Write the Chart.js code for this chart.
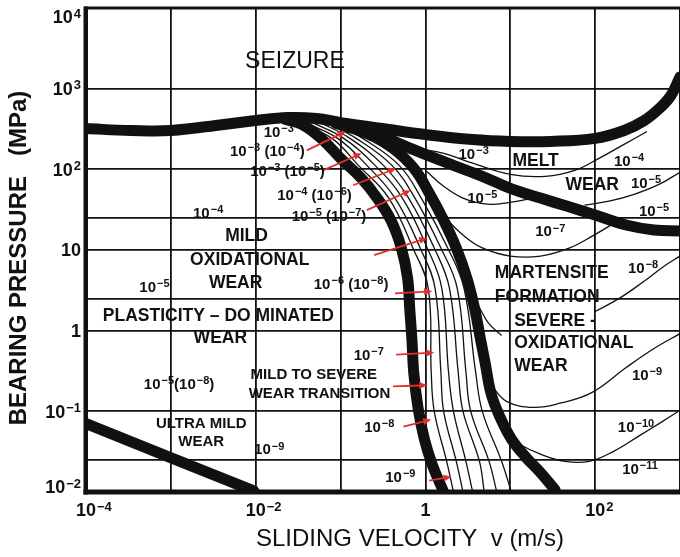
<!DOCTYPE html>
<html>
<head>
<meta charset="utf-8">
<title>Wear map</title>
<script src="https://cdn.jsdelivr.net/npm/chart.js@4.4.1/dist/chart.umd.min.js"></script>
<style>
  html, body { margin: 0; padding: 0; background: #fff; }
  #wrap { width: 680px; height: 557px; }
</style>
</head>
<body>
<div id="wrap"><canvas id="wear-map" width="680" height="557"></canvas></div>
<script>
// grid and tick values
const xGrid = [1e-4, 1e-3, 1e-2, 0.1, 1, 10, 100, 1000];
const yGrid = [0.01, 0.025, 0.1, 1, 2.5, 10, 25, 100, 1000, 10000];
const xTickValues = [1e-4, 1e-2, 1, 100];
const xTickLabels = ['10{-4}', '10{-2}', '1', '10{2}'];
const yTickValues = [1e4, 1e3, 100, 10, 1, 0.1, 0.01];
const yTickLabels = ['10{4}', '10{3}', '10{2}', '10', '1', '10{-1}', '10{-2}'];

// thick regime boundaries (v in m/s, p in MPa)
const seizureV = [1e-4, 3.4e-4, 1e-3, 4.2e-3, 0.01, 0.024, 0.052, 0.1, 0.31, 1, 3.6, 10, 30, 100, 220, 380, 570, 780, 1000];
const seizureP = [320, 303, 303, 360, 403, 438, 427, 380, 321, 270, 234, 222, 222, 242, 303, 403, 566, 820, 1400];
const meltV = [0.115, 0.234, 0.55, 1, 2.14, 4.68, 10, 22.7, 46, 102, 232, 494, 1000];
const meltP = [349, 294, 198, 153, 112, 82, 58, 44, 35, 27, 20.4, 17.7, 17.2];
const mildV = [0.0225, 0.035, 0.059, 0.1, 0.177, 0.27, 0.392, 0.52, 0.617, 0.653, 0.692, 0.73, 0.82, 0.97, 1.2, 1.64];
const mildP = [414, 360, 242, 137, 77, 44, 23.4, 10.6, 4.47, 1.88, 0.8, 0.294, 0.109, 0.0455, 0.022, 0.01];
const severeV = [0.088, 0.204, 0.414, 0.73, 1.11, 1.64, 2.31, 3.08, 3.8, 4.44, 5.07, 5.93, 7.5, 10.3, 15.3, 22.7, 33.8];
const severeP = [370, 278, 182, 103, 50.6, 23.4, 10.6, 4.47, 1.88, 0.8, 0.392, 0.167, 0.0865, 0.0455, 0.0269, 0.0174, 0.0106];
const ultraV = [1e-4, 9.5e-3];
const ultraP = [0.0705, 0.0103];

// thin wear-rate contours in the transition band
const bandP = [390, 242, 112, 44, 10.6, 3.35, 0.31, 0.1, 0.024, 0.01];
const band1V = [0.029, 0.079, 0.162, 0.37, 0.711, 1.08, 1.17, 1.27, 1.78, 2.14];
const band2V = [0.036, 0.0925, 0.204, 0.438, 0.867, 1.3, 1.52, 1.64, 2.31, 2.77];
const band3V = [0.044, 0.109, 0.255, 0.535, 1.05, 1.56, 1.87, 2.14, 3.0, 3.6];
const band4V = [0.055, 0.129, 0.32, 0.634, 1.27, 1.92, 2.43, 2.77, 4.33, 4.93];
const band5V = [0.066, 0.153, 0.403, 0.753, 1.52, 2.37, 3.0, 3.42, 5.62, 6.93];
const band6V = [0.079, 0.182, 0.491, 0.893, 1.83, 2.85, 3.9, 4.68, 7.9, 10.3];

// thin contours on the high speed side
const melt3V = [0.73, 1.64, 3.6, 10, 25.9, 57.4, 111, 219, 409];
const melt3P = [182, 158, 119, 86.7, 82, 97, 137, 204, 294];
const melt5V = [75, 146, 288, 566, 1000];
const melt5P = [36, 40.3, 49, 65, 92];
const rate5V = [1.03, 1.64, 2.77, 5.34, 10.3, 18.9];
const rate5P = [94.5, 61.7, 44, 37, 39.2, 44];
const rate7V = [1.64, 2.77, 4.68, 10, 22.7, 50.2, 97, 167];
const rate7P = [26.3, 15.3, 10.6, 8.4, 8.4, 10.6, 15.3, 21.5];
const rate8aV = [4.3, 5.6, 7.9];
const rate8aP = [1.95, 1.22, 0.87];
const rate8bV = [100, 192, 377, 648, 1000];
const rate8bP = [1.73, 2.51, 4.1, 6.3, 8.4];
const rate9V = [6.1, 9.0, 18.9, 38.6, 92.4, 232, 494, 1000];
const rate9P = [0.204, 0.133, 0.112, 0.126, 0.172, 0.349, 0.6, 0.918];
const rate10V = [9.8, 13.4, 22.7, 44, 85.3, 167, 330, 566, 1000];
const rate10P = [0.0497, 0.0382, 0.0294, 0.024, 0.024, 0.0321, 0.0497, 0.0705, 0.103];

// red pointer arrows (from label to contour)
const arrowFromV = [0.04, 0.0624, 0.141, 0.204, 0.248, 0.438, 0.451, 0.414, 0.55, 1.11];
const arrowFromP = [172, 97, 63.5, 31.2, 8.66, 2.9, 0.506, 0.204, 0.0646, 0.0138];
const arrowToV = [0.115, 0.177, 0.451, 0.671, 1.05, 1.2, 1.27, 1.05, 1.17, 2.03];
const arrowToP = [294, 158, 103, 55, 14.1, 3.07, 0.535, 0.21, 0.079, 0.0155];

// annotations: [text, v, p]
const seizureNote = ['SEIZURE', 0.029, 2190];
const regionNotes = [
  ['MELT', 19.9, 126], ['WEAR', 92.4, 63.5],
  ['MILD', 7.8e-3, 14.9], ['OXIDATIONAL', 8.5e-3, 7.5], ['WEAR', 5.8e-3, 3.87],
  ['PLASTICITY \u2013 DO MINATED', 3.63e-3, 1.5], ['WEAR', 3.83e-3, 0.8]
];
const severeNotes = [
  ['MARTENSITE', 6.58, 5.16], ['FORMATION', 6.58, 2.59],
  ['SEVERE -', 11.1, 1.33], ['OXIDATIONAL', 11.1, 0.69], ['WEAR', 11.1, 0.36]
];
const transitionNotes = [['MILD TO SEVERE', 8.7e-3, 0.286], ['WEAR TRANSITION', 8.26e-3, 0.167]];
const ultraNotes = [['ULTRA MILD', 2.28e-3, 0.0705], ['WEAR', 2.28e-3, 0.0417]];
const rateNotes = [
  ['10{-3}', 0.0187, 294], ['10{-3} (10{-4})', 0.0137, 172], ['10{-3} (10{-5})', 0.0237, 97],
  ['10{-4} (10{-6})', 0.0493, 49], ['10{-5} (10{-7})', 0.073, 27], ['10{-6} (10{-8})', 0.133, 3.87],
  ['10{-7}', 0.215, 0.506], ['10{-8}', 0.286, 0.0646], ['10{-9}', 0.506, 0.0155],
  ['10{-4}', 2.75e-3, 29.4], ['10{-5}', 6.4e-4, 3.55], ['10{-5}(10{-8})', 1.25e-3, 0.222], ['10{-9}', 0.0144, 0.034],
  ['10{-3}', 3.7, 158], ['10{-4}', 251, 129], ['10{-5}', 398, 69], ['10{-5}', 4.68, 45], ['10{-5}', 494, 31.2],
  ['10{-7}', 29.6, 17.2], ['10{-8}', 367, 6.13], ['10{-9}', 409, 0.286], ['10{-10}', 303, 0.0646], ['10{-11}', 338, 0.0195]
];

const INK = '#111';
const FONT = "'Liberation Sans', Arial, sans-serif";

const points = (vs, ps) => vs.map((v, i) => ({ x: v, y: ps[i] }));
const thick = (label, vs, ps) => ({
  label, data: points(vs, ps), showLine: true, borderColor: INK, borderWidth: 11,
  borderCapStyle: 'round', borderJoinStyle: 'round', tension: 0.4, clip: 0, order: 0
});
const thin = (label, vs, ps) => ({
  label, data: points(vs, ps), showLine: true, borderColor: INK, borderWidth: 1.3,
  tension: 0.4, clip: 0, order: 1
});

// text with {superscript} parts
function drawSup(ctx, spec, x, y, align, size, supSize, weight) {
  const parts = [];
  spec.replace(/([^{]+)|\{([^}]*)\}/g, (m, base, sup) => {
    if (base !== undefined) parts.push({ t: base, sup: false });
    else parts.push({ t: sup.replace('-', '\u2212'), sup: true });
  });
  const bf = `${weight} ${size}px ${FONT}`;
  const sf = `${weight} ${supSize}px ${FONT}`;
  let w = 0;
  parts.forEach(p => {
    ctx.font = p.sup ? sf : bf;
    p.w = ctx.measureText(p.t).width + (p.sup ? 1 : 0);
    w += p.w;
  });
  let cx = x - w / 2;
  if (align === 'left') cx = x;
  else if (align === 'right') cx = x - w;
  else if (align === 'base') cx = x - parts[0].w / 2;
  ctx.textAlign = 'left';
  ctx.textBaseline = 'alphabetic';
  const rise = size * 0.22;
  parts.forEach(p => {
    ctx.font = p.sup ? sf : bf;
    if (p.sup) ctx.fillText(p.t, cx + 1, y - rise + supSize * 0.358);
    else ctx.fillText(p.t, cx, y + size * 0.358);
    cx += p.w;
  });
}

function drawNotes(ctx, x, y, notes, font, align) {
  ctx.font = font;
  ctx.textAlign = align;
  ctx.textBaseline = 'middle';
  notes.forEach(([t, v, p]) => ctx.fillText(t, x.getPixelForValue(v), y.getPixelForValue(p)));
}

const mapDecor = {
  id: 'mapDecor',
  afterDatasetsDraw(chart) {
    const { ctx, chartArea: a, scales: { x, y } } = chart;
    ctx.save();

    // red arrows
    ctx.strokeStyle = '#e0302a';
    ctx.fillStyle = '#e0302a';
    ctx.lineWidth = 1.8;
    arrowFromV.forEach((v, i) => {
      const x0 = x.getPixelForValue(v), y0 = y.getPixelForValue(arrowFromP[i]);
      const x1 = x.getPixelForValue(arrowToV[i]), y1 = y.getPixelForValue(arrowToP[i]);
      const ang = Math.atan2(y1 - y0, x1 - x0);
      const c = Math.cos(ang), s = Math.sin(ang);
      ctx.beginPath();
      ctx.moveTo(x0, y0);
      ctx.lineTo(x1 - 6 * c, y1 - 6 * s);
      ctx.stroke();
      ctx.beginPath();
      ctx.moveTo(x1, y1);
      ctx.lineTo(x1 - 8 * c + 3.5 * s, y1 - 8 * s - 3.5 * c);
      ctx.lineTo(x1 - 8 * c - 3.5 * s, y1 - 8 * s + 3.5 * c);
      ctx.closePath();
      ctx.fill();
    });

    // frame
    ctx.fillStyle = INK;
    ctx.fillRect(a.left - 2, a.top - 1.5, a.right - a.left + 2, 3);
    ctx.fillRect(a.left - 2.5, a.top - 1.5, 4.5, a.bottom - a.top + 4);
    ctx.fillRect(a.left - 2.5, a.bottom - 2.5, a.right - a.left + 3, 5);

    // region labels
    drawNotes(ctx, x, y, [seizureNote], `normal 23px ${FONT}`, 'center');
    drawNotes(ctx, x, y, regionNotes, `bold 17.5px ${FONT}`, 'center');
    drawNotes(ctx, x, y, severeNotes, `bold 17.5px ${FONT}`, 'left');
    drawNotes(ctx, x, y, transitionNotes, `bold 15px ${FONT}`, 'left');
    drawNotes(ctx, x, y, ultraNotes, `bold 15px ${FONT}`, 'center');
    rateNotes.forEach(([t, v, p]) => drawSup(ctx, t, x.getPixelForValue(v), y.getPixelForValue(p), 'center', 15, 11, 'bold'));

    // tick labels
    xTickValues.forEach((v, i) => drawSup(ctx, xTickLabels[i], x.getPixelForValue(v), a.bottom + 18, 'base', 18, 13, 'bold'));
    yTickValues.forEach((v, i) => {
      const py = Math.min(a.bottom - 5, Math.max(a.top + 9, y.getPixelForValue(v)));
      drawSup(ctx, yTickLabels[i], a.left - 5, py, 'right', 18, 13, 'bold');
    });

    // axis titles
    ctx.fillStyle = INK;
    ctx.textAlign = 'center';
    ctx.textBaseline = 'middle';
    ctx.font = `normal 24px ${FONT}`;
    ctx.fillText('SLIDING VELOCITY  v (m/s)', 410, a.bottom + 47);
    ctx.translate(19, 258);
    ctx.rotate(-Math.PI / 2);
    ctx.font = `bold 24px ${FONT}`;
    ctx.fillText('BEARING PRESSURE   (MPa)', 0, 0);
    ctx.restore();
  }
};

const gridOpts = { color: INK, lineWidth: 1.8, drawTicks: false };

new Chart(document.getElementById('wear-map'), {
  type: 'scatter',
  data: {
    datasets: [
      thick('Seizure boundary', seizureV, seizureP),
      thick('Melt wear boundary', meltV, meltP),
      thick('Mild wear boundary', mildV, mildP),
      thick('Severe wear boundary', severeV, severeP),
      thick('Ultra mild boundary', ultraV, ultraP),
      thin('band 1', band1V, bandP),
      thin('band 2', band2V, bandP),
      thin('band 3', band3V, bandP),
      thin('band 4', band4V, bandP),
      thin('band 5', band5V, bandP),
      thin('band 6', band6V, bandP),
      thin('10^-3 melt', melt3V, melt3P),
      thin('10^-5 melt', melt5V, melt5P),
      thin('10^-5', rate5V, rate5P),
      thin('10^-7', rate7V, rate7P),
      thin('10^-8 a', rate8aV, rate8aP),
      thin('10^-8 b', rate8bV, rate8bP),
      thin('10^-9', rate9V, rate9P),
      thin('10^-10', rate10V, rate10P)
    ]
  },
  options: {
    responsive: false,
    animation: false,
    devicePixelRatio: 1,
    layout: { padding: { left: 86, right: 0, top: 8, bottom: 65 } },
    elements: { point: { radius: 0, hoverRadius: 0 } },
    plugins: { legend: { display: false }, tooltip: { enabled: false } },
    scales: {
      x: {
        type: 'logarithmic', min: 1e-4, max: 1e3,
        afterBuildTicks: s => { s.ticks = xGrid.map(v => ({ value: v })); },
        ticks: { display: false },
        grid: gridOpts,
        border: { display: false }
      },
      y: {
        type: 'logarithmic', min: 0.01, max: 1e4,
        afterBuildTicks: s => { s.ticks = yGrid.map(v => ({ value: v })); },
        ticks: { display: false },
        grid: gridOpts,
        border: { display: false }
      }
    }
  },
  plugins: [mapDecor]
});
</script>
</body>
</html>
